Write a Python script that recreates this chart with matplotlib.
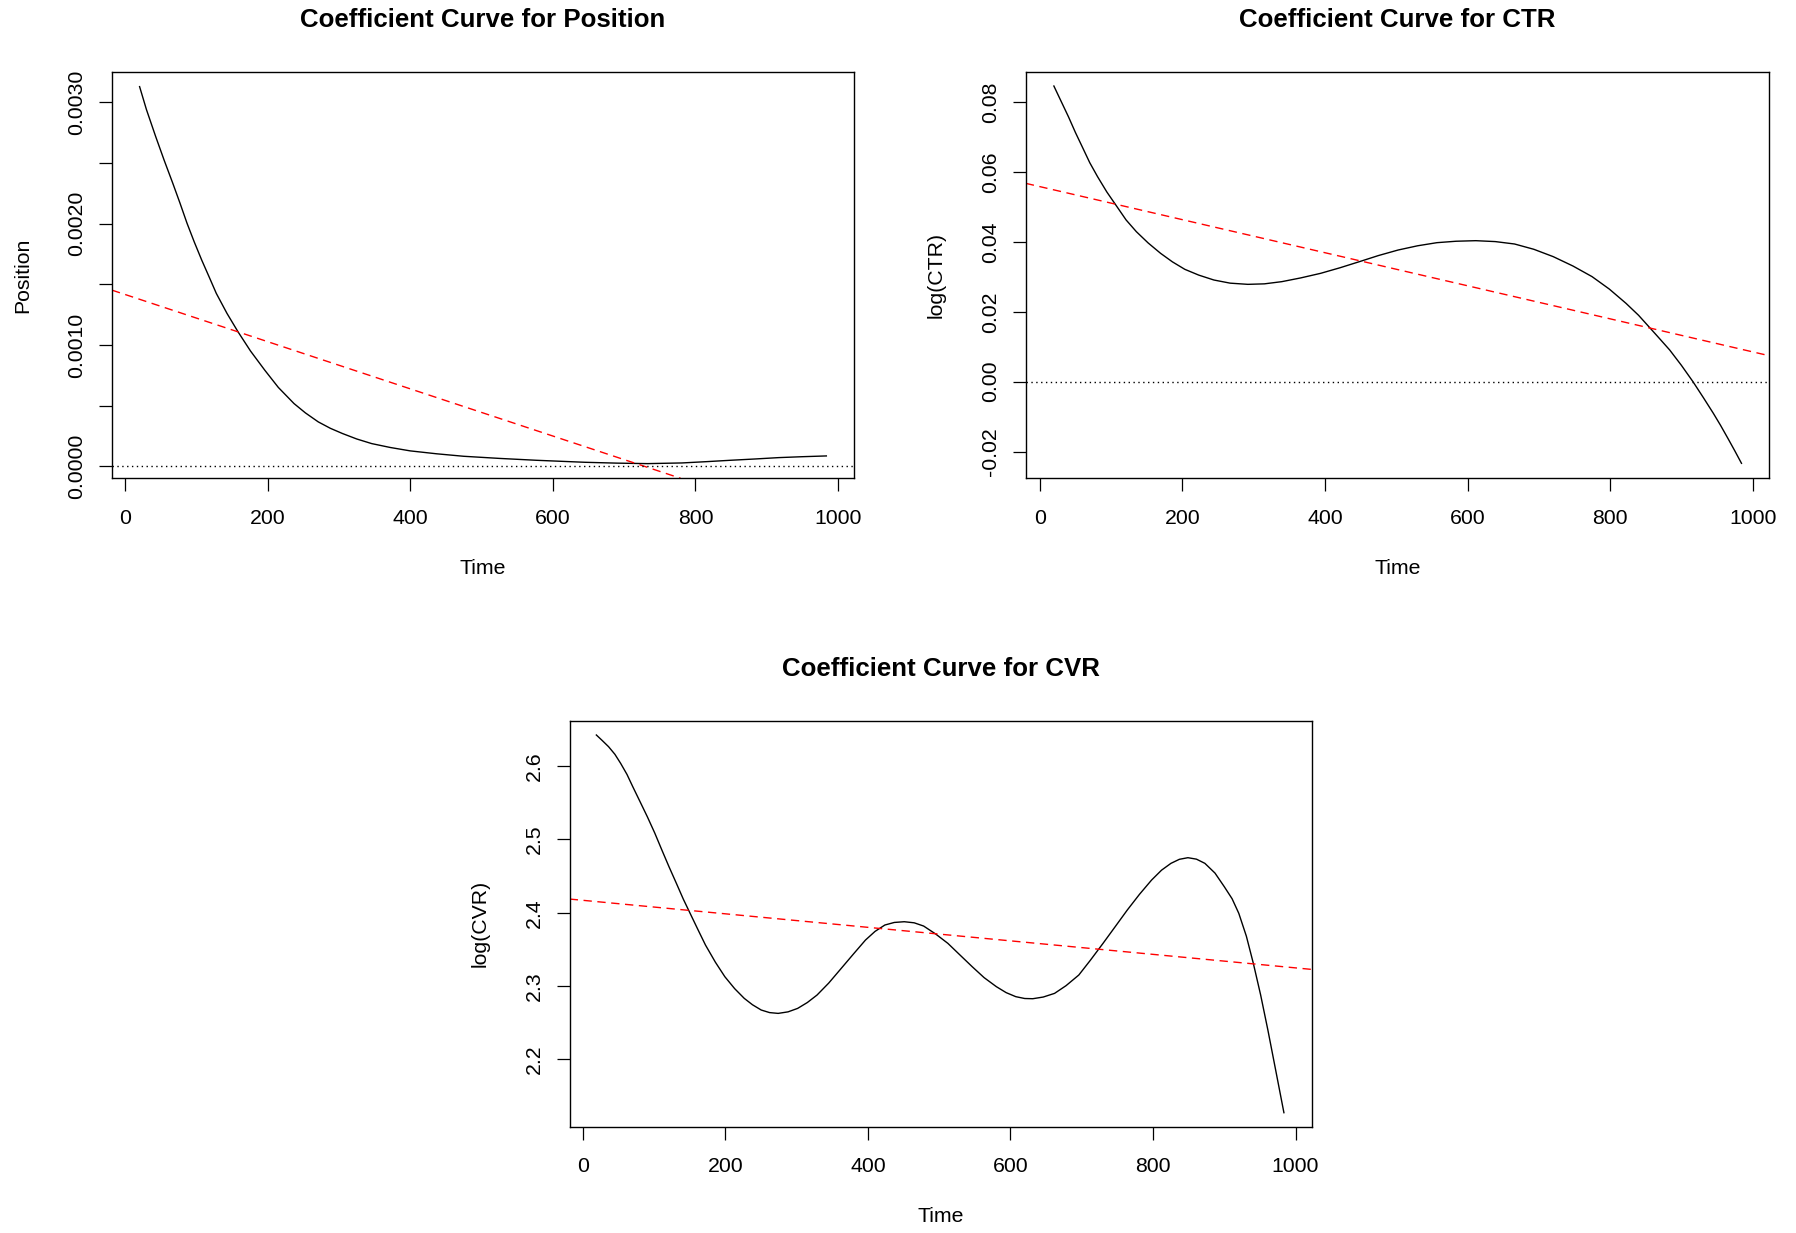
import matplotlib
matplotlib.use("Agg")
import matplotlib.pyplot as plt

plt.rcParams['font.family'] = ['Liberation Sans', 'DejaVu Sans']

# fitted coefficient curves
pos_time = [20.4, 30, 43, 55, 67, 77, 87, 97, 107.5, 118, 128, 143, 158.5, 176, 196,
            215, 237, 253, 271, 288, 305, 325, 346, 372, 400, 437, 475, 525, 577,
            645, 690, 733, 781, 815, 849, 883, 917, 950, 983.7]
pos_coef = [0.003129, 0.00294, 0.002717, 0.00252, 0.002332, 0.00217, 0.002002,
            0.00185, 0.0017, 0.00156, 0.001425, 0.00126, 0.001108, 0.00095, 0.000792,
            0.00065, 0.000517, 0.00044, 0.000366, 0.000313, 0.00027, 0.000225,
            0.000187, 0.000155, 0.000127, 0.000103, 0.0000825, 0.000065, 0.0000495,
            0.000033, 0.000026, 0.000022, 0.0000275, 0.000038, 0.0000495, 0.00006,
            0.0000715, 0.000079, 0.0000853]

ctr_time = [19.7, 30, 40.1, 50, 60.5, 70, 81, 94, 108.2, 121, 135.4, 152, 169.4, 186,
            203.4, 223, 244.2, 267, 291.8, 315, 339.5, 366, 393.9, 421, 448.3, 475,
            502.7, 530, 557.1, 584, 611.6, 639, 666, 693, 720.4, 748, 774.8, 799,
            822.4, 840, 856.5, 870, 883.7, 900, 916.3, 931, 944.9, 955, 965.3, 975,
            984.4]
ctr_coef = [0.08464, 0.0802, 0.07586, 0.0713, 0.0668, 0.0627, 0.05868, 0.0543,
            0.0501, 0.0463, 0.04294, 0.0397, 0.03674, 0.0343, 0.03216, 0.0305, 0.0291,
            0.0282, 0.02786, 0.0280, 0.02863, 0.0297, 0.03101, 0.0326, 0.03435,
            0.0361, 0.03769, 0.0389, 0.03979, 0.0402, 0.04036, 0.0401, 0.03941,
            0.0379, 0.03578, 0.0331, 0.03006, 0.0265, 0.02242, 0.0190, 0.01527,
            0.0122, 0.00906, 0.0047, 0.0, -0.0046, -0.00906, -0.0125, -0.01622,
            -0.0198, -0.02338]

cvr_time = [19, 27, 36.1, 45, 53.1, 62, 70.1, 80, 90.5, 101, 110.9, 121, 131.3, 141,
            151.7, 162, 172.1, 186, 199.3, 213, 226.5, 238, 250.3, 262, 274.1, 288,
            301.4, 315, 328.6, 345, 362.6, 380, 396.6, 410, 423.8, 437, 451, 465,
            478.2, 495, 512.2, 529, 546.3, 563, 580.3, 594, 607.5, 620, 631.3, 646,
            661.9, 678, 695.9, 712, 729.9, 747, 763.9, 781, 798, 812, 825.2, 837,
            849, 861, 872.8, 887, 900, 911, 920.4, 931, 940.8, 951, 961.2, 972, 983.7]
cvr_coef = [2.6423, 2.6350, 2.6264, 2.6160, 2.6036, 2.5885, 2.5718, 2.5520, 2.5309,
            2.5085, 2.4855, 2.4625, 2.4400, 2.4185, 2.3968, 2.3760, 2.3559, 2.3325,
            2.3127, 2.2965, 2.2832, 2.2745, 2.2673, 2.2638, 2.2627, 2.2648, 2.2695,
            2.2775, 2.2877, 2.3040, 2.3241, 2.3440, 2.3627, 2.3745, 2.3832, 2.3867,
            2.3877, 2.3862, 2.3818, 2.3710, 2.3582, 2.3425, 2.3264, 2.3115, 2.2991,
            2.2910, 2.2855, 2.2830, 2.2827, 2.2850, 2.2900, 2.3005, 2.3150, 2.3350,
            2.3582, 2.3810, 2.4036, 2.4250, 2.4445, 2.4580, 2.4673, 2.4728, 2.4750,
            2.4730, 2.4673, 2.4540, 2.4355, 2.4190, 2.3991, 2.3680, 2.3309, 2.2880,
            2.2400, 2.1860, 2.1273]

# linear fits (red dashed): intercept, slope
pos_fit = (0.001416, -1.944e-6)
ctr_fit = (0.05584, -4.731e-5)
cvr_fit = (2.4169, -9.214e-5)

x_ticks = [0, 200, 400, 600, 800, 1000]
pos_ticks = [0.0, 0.0005, 0.001, 0.0015, 0.002, 0.0025, 0.003]
pos_labels = ["0.0000", "", "0.0010", "", "0.0020", "", "0.0030"]
ctr_ticks = [-0.02, 0.0, 0.02, 0.04, 0.06, 0.08]
ctr_labels = ["-0.02", "0.00", "0.02", "0.04", "0.06", "0.08"]
cvr_ticks = [2.2, 2.3, 2.4, 2.5, 2.6]
cvr_labels = ["2.2", "2.3", "2.4", "2.5", "2.6"]

W, H = 1796, 1233
fig = plt.figure(figsize=(W / 100, H / 100), dpi=100)


def add_panel(left, top, right, bottom):
    return fig.add_axes([left / W, 1 - bottom / H, (right - left) / W, (bottom - top) / H])


def style(ax, title, ylabel, yt, ylab, xlim, ylim):
    ax.set_xlim(*xlim)
    ax.set_ylim(*ylim)
    ax.set_xticks(x_ticks)
    ax.set_xticklabels([str(t) for t in x_ticks])
    ax.set_yticks(yt)
    ax.set_yticklabels(ylab, rotation=90, va='center')
    ax.tick_params(direction='out', length=9.1, width=0.9, labelsize=15.3, colors='black')
    ax.tick_params(axis='x', pad=13)
    ax.tick_params(axis='y', pad=9.5)
    for s in ax.spines.values():
        s.set_linewidth(1.0)
    ax.annotate(title, xy=(0.5, 1), xycoords='axes fraction', xytext=(0, 37),
                textcoords='offset points', ha='center', va='center',
                fontsize=18.6, fontweight='bold')
    ax.annotate("Time", xy=(0.5, 0), xycoords='axes fraction', xytext=(0, -65),
                textcoords='offset points', ha='center', va='center', fontsize=15.3)
    ax.annotate(ylabel, xy=(0, 0.5), xycoords='axes fraction', xytext=(-64.5, 0),
                textcoords='offset points', ha='center', va='center',
                rotation=90, fontsize=15.3)


# Position
ax1 = add_panel(112, 71.7, 853.5, 478.3)
ax1.plot(pos_time, pos_coef, color='black', lw=1.0)
ax1.axline((0, pos_fit[0]), slope=pos_fit[1], color='red', lw=1.0, dashes=(6, 4))
ax1.axhline(0, color='black', lw=1.0, dashes=(1, 2.5))
style(ax1, "Coefficient Curve for Position", "Position", pos_ticks, pos_labels,
      (-18.3, 1021.8), (-0.000099, 0.003252))

# CTR
ax2 = add_panel(1025.8, 71.7, 1769, 478.3)
ax2.plot(ctr_time, ctr_coef, color='black', lw=1.0)
ax2.axline((0, ctr_fit[0]), slope=ctr_fit[1], color='red', lw=1.0, dashes=(6, 4))
ax2.axhline(0, color='black', lw=1.0, dashes=(1, 2.5))
style(ax2, "Coefficient Curve for CTR", "log(CTR)", ctr_ticks, ctr_labels,
      (-19.7, 1023), (-0.02767, 0.08874))

# CVR
ax3 = add_panel(569.7, 720.7, 1311.5, 1126.7)
ax3.plot(cvr_time, cvr_coef, color='black', lw=1.0)
ax3.axline((0, cvr_fit[0]), slope=cvr_fit[1], color='red', lw=1.0, dashes=(6, 4))
ax3.axhline(0, color='black', lw=1.0, dashes=(1, 2.5))
style(ax3, "Coefficient Curve for CVR", "log(CVR)", cvr_ticks, cvr_labels,
      (-18.4, 1022.4), (2.1082, 2.6618))

fig.savefig("out.png", dpi=100)
